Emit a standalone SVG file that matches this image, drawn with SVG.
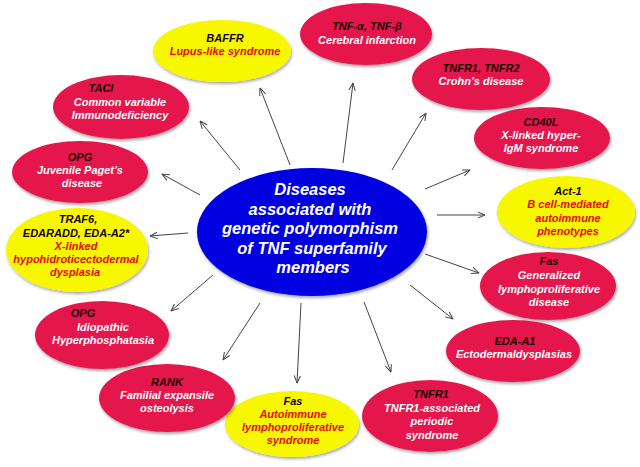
<svg xmlns="http://www.w3.org/2000/svg" width="640" height="467" viewBox="0 0 640 467">
<style>
text{font-family:"Liberation Sans",Arial,sans-serif;font-weight:bold;font-style:italic;text-anchor:middle;font-size:11px}
.r{fill:#e5184c}
.y{fill:#f7f700}
.b{fill:#0606e0}
.k{fill:#150000}
.w{fill:#ffffff}
.t{fill:#e80808}
.c{fill:#ffffff;font-size:16.5px}
.sh{filter:url(#ds)}
#connectors line{stroke:#444;stroke-width:1;marker-end:url(#ah)}
</style>
<defs>
<filter id="ds" x="-20%" y="-20%" width="140%" height="150%">
<feDropShadow dx="1" dy="2" stdDeviation="1.5" flood-color="#000" flood-opacity="0.35"/>
</filter>
<marker id="ah" viewBox="0 0 8 8" refX="7.5" refY="4" markerWidth="8" markerHeight="8" markerUnits="userSpaceOnUse" orient="auto">
<path d="M0,0.8 L7.5,4 L0,7.2" fill="none" stroke="#444" stroke-width="1"/>
</marker>
</defs>
<rect width="640" height="467" fill="#ffffff"/>
<g id="connectors">
<line x1="290" y1="165" x2="260" y2="88"/>
<line x1="343" y1="163" x2="353" y2="83"/>
<line x1="392" y1="170" x2="426" y2="113"/>
<line x1="425" y1="189" x2="470" y2="170"/>
<line x1="437" y1="215" x2="485" y2="215"/>
<line x1="425" y1="254" x2="479" y2="273"/>
<line x1="410" y1="285" x2="453" y2="319"/>
<line x1="364" y1="302" x2="391" y2="372"/>
<line x1="301" y1="303" x2="297" y2="383"/>
<line x1="260" y1="303" x2="223" y2="360"/>
<line x1="213" y1="275" x2="171" y2="311"/>
<line x1="188" y1="233" x2="150" y2="236"/>
<line x1="200" y1="195" x2="162" y2="174"/>
<line x1="240" y1="170" x2="200" y2="121"/>
</g>
<g id="center">
<ellipse class="b sh" cx="312" cy="232" rx="115" ry="64"/>
<text class="c" x="310" y="195">Diseases</text>
<text class="c" x="310" y="214.5">associated with</text>
<text class="c" x="310" y="234">genetic polymorphism</text>
<text class="c" x="312" y="253.5">of TNF superfamily</text>
<text class="c" x="313" y="273">members</text>
</g>
<g id="baffr">
<ellipse class="y sh" cx="222" cy="51" rx="69" ry="31"/>
<text class="k" x="225" y="42">BAFFR</text>
<text class="t" x="225" y="55">Lupus-like syndrome</text>
</g>
<g id="tnfa">
<ellipse class="r sh" cx="366" cy="34" rx="66" ry="31"/>
<text class="k" x="367" y="30">TNF-α, TNF-β</text>
<text class="w" x="367" y="44">Cerebral infarction</text>
</g>
<g id="tnfr12">
<ellipse class="r sh" cx="481" cy="79" rx="69" ry="31"/>
<text class="k" x="481" y="72">TNFR1, TNFR2</text>
<text class="w" x="481" y="85">Crohn’s disease</text>
</g>
<g id="cd40l">
<ellipse class="r sh" cx="542" cy="138" rx="68" ry="31"/>
<text class="k" x="541" y="126">CD40L</text>
<text class="w" x="541" y="139">X-linked hyper-</text>
<text class="w" x="541" y="152">IgM syndrome</text>
</g>
<g id="act1">
<ellipse class="y sh" cx="566" cy="212" rx="69" ry="36"/>
<text class="k" x="568" y="195">Act-1</text>
<text class="t" x="568" y="208">B cell-mediated</text>
<text class="t" x="568" y="222">autoimmune</text>
<text class="t" x="568" y="235">phenotypes</text>
</g>
<g id="fas1">
<ellipse class="r sh" cx="548" cy="286" rx="68" ry="34"/>
<text class="k" x="549" y="265">Fas</text>
<text class="w" x="549" y="279">Generalized</text>
<text class="w" x="549" y="293">lymphoproliferative</text>
<text class="w" x="549" y="306">disease</text>
</g>
<g id="edaa1">
<ellipse class="r sh" cx="513" cy="351" rx="67" ry="31"/>
<text class="k" x="515" y="345">EDA-A1</text>
<text class="w" x="514" y="358">Ectodermaldysplasias</text>
</g>
<g id="tnfr1">
<ellipse class="r sh" cx="430" cy="416" rx="68" ry="36"/>
<text class="k" x="431" y="398">TNFR1</text>
<text class="w" x="432" y="411.5">TNFR1-associated</text>
<text class="w" x="432" y="425">periodic</text>
<text class="w" x="432" y="438.5">syndrome</text>
</g>
<g id="fas2">
<ellipse class="y sh" cx="292" cy="424" rx="67" ry="33"/>
<text class="k" x="293" y="405">Fas</text>
<text class="t" x="293" y="418">Autoimmune</text>
<text class="t" x="293" y="431">lymphoproliferative</text>
<text class="t" x="293" y="444">syndrome</text>
</g>
<g id="rank">
<ellipse class="r sh" cx="167" cy="398" rx="68" ry="34"/>
<text class="k" x="167" y="386">RANK</text>
<text class="w" x="167" y="399">Familial expansile</text>
<text class="w" x="167" y="412">osteolysis</text>
</g>
<g id="opg2">
<ellipse class="r sh" cx="102" cy="335" rx="67" ry="34"/>
<text class="k" x="83" y="317">OPG</text>
<text class="w" x="103" y="331">Idiopathic</text>
<text class="w" x="103" y="344">Hyperphosphatasia</text>
</g>
<g id="traf6">
<ellipse class="y sh" cx="77" cy="250" rx="71" ry="42"/>
<text class="k" x="78" y="223">TRAF6,</text>
<text class="k" x="76" y="236.5">EDARADD, EDA-A2*</text>
<text class="t" x="76" y="250">X-linked</text>
<text class="t" x="76" y="263">hypohidroticectodermal</text>
<text class="t" x="75" y="276">dysplasia</text>
</g>
<g id="opg1">
<ellipse class="r sh" cx="80" cy="172" rx="68" ry="31"/>
<text class="k" x="80" y="161">OPG</text>
<text class="w" x="80" y="174">Juvenile Paget’s</text>
<text class="w" x="82" y="187">disease</text>
</g>
<g id="taci">
<ellipse class="r sh" cx="121" cy="107" rx="68" ry="32"/>
<text class="k" x="101" y="92">TACI</text>
<text class="w" x="120" y="106">Common variable</text>
<text class="w" x="120" y="119">Immunodeficiency</text>
</g>
</svg>
